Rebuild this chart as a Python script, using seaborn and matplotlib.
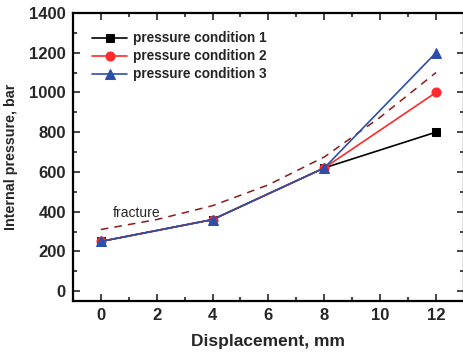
import matplotlib
matplotlib.use("Agg")
import matplotlib.pyplot as plt
import seaborn as sns
import pandas as pd
from matplotlib.ticker import MultipleLocator

sns.set_theme(style="ticks")
plt.rcParams['font.family'] = ['Liberation Sans', 'DejaVu Sans']

displacement = [0, 4, 8, 12]
cond1 = [250, 360, 620, 800]
cond2 = [250, 360, 620, 1000]
cond3 = [250, 360, 620, 1200]
series_names = ["pressure condition 1", "pressure condition 2", "pressure condition 3"]
fracture_x = [0, 2, 4, 6, 8, 10, 12]
fracture_y = [310, 360, 430, 535, 675, 875, 1100]

colors = ["#000000", "#FF2A2A", "#2E4FA8"]
markers = ["s", "o", "^"]
msizes = [5.5, 6.5, 7]

fig = plt.figure(figsize=(4.64, 3.58), dpi=100)
ax = fig.add_axes([0.157, 0.159, 0.843, 0.805])

sns.lineplot(x=fracture_x, y=fracture_y, ax=ax, color="#8B1A1A", lw=1.1,
             linestyle=(0, (5, 4)), legend=False)

for vals, name, c, m, ms in zip([cond1, cond2, cond3], series_names, colors, markers, msizes):
    df = pd.DataFrame({"x": displacement, "y": vals})
    sns.lineplot(data=df, x="x", y="y", ax=ax, color=c, marker=m, markersize=ms,
                 markeredgecolor=c, lw=1.2, label=name)

ax.set_xlim(-1, 13)
ax.set_ylim(-50, 1400)
ax.xaxis.set_major_locator(MultipleLocator(2))
ax.xaxis.set_minor_locator(MultipleLocator(1))
ax.yaxis.set_major_locator(MultipleLocator(200))
ax.yaxis.set_minor_locator(MultipleLocator(100))
ax.tick_params(which="both", direction="in", top=True, right=True, width=1.2)
ax.tick_params(which="major", length=5, labelsize=12, pad=5)
ax.tick_params(which="minor", length=3)
for lab in ax.get_xticklabels() + ax.get_yticklabels():
    lab.set_fontweight("bold")
for s in ax.spines.values():
    s.set_linewidth(1.6)
    s.set_color("black")

ax.set_xlabel("Displacement, mm", fontsize=12.5, fontweight="bold", labelpad=8)
ax.set_ylabel("Internal pressure, bar", fontsize=10.3, fontweight="bold", labelpad=8)

ax.text(0.43, 395, "fracture", fontsize=10, va="center", ha="left")

leg = ax.legend(loc="upper left", bbox_to_anchor=(0.035, 0.955), frameon=False,
                prop={"weight": "bold", "size": 9.8}, handlelength=2.6,
                handletextpad=0.4, labelspacing=0.3, borderaxespad=0)

fig.savefig("out.png", dpi=100)
